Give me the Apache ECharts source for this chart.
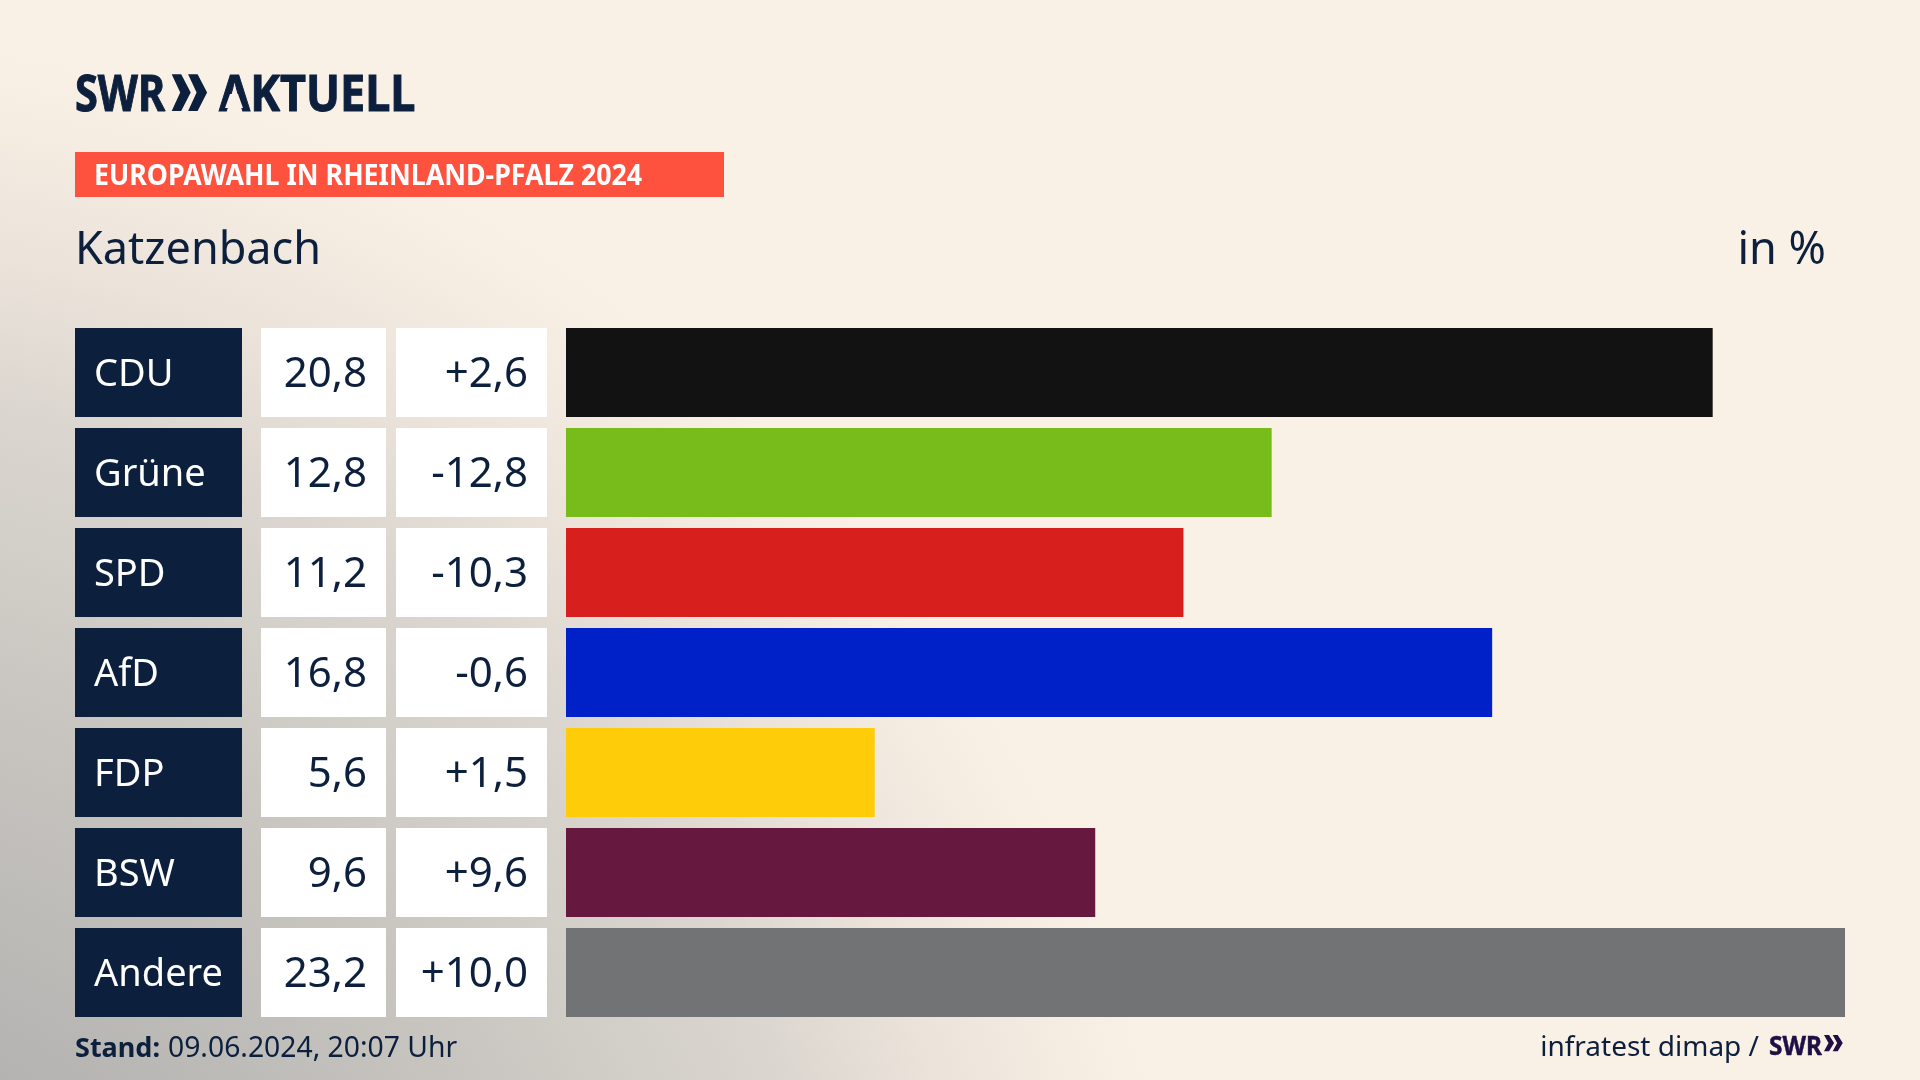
<!DOCTYPE html>
<html>
<head>
<meta charset="utf-8">
<style>
  html, body { margin: 0; padding: 0; }
  #chart { width: 1920px; height: 1080px; }
</style>
<script src="https://cdn.jsdelivr.net/npm/echarts@6/dist/echarts.min.js"></script>
</head>
<body>
<div id="chart"></div>
<script>
const parties = ['CDU', 'Grüne', 'SPD', 'AfD', 'FDP', 'BSW', 'Andere']
const shares = [20.8, 12.8, 11.2, 16.8, 5.6, 9.6, 23.2]
const changes = ['+2,6', '-12,8', '-10,3', '-0,6', '+1,5', '+9,6', '+10,0']
const barColors = ['#121212', '#78bc1b', '#d71f1d', '#0021c7', '#ffcc0a', '#66183f', '#727374']

const NAVY = '#0c1f3d'
const FONT = '"Noto Sans", sans-serif'

// every column is its own grid, same rows
const gridTop = 322.5
const gridHeight = 700
const columns = [
  { left: 75, right: 242 },
  { left: 261, right: 386 },
  { left: 396, right: 547 },
  { left: 566, right: 1845 }
]

// one full width cell per row, text comes from the label
let cellSeries = (idx, color, align, textColor, size, texts) => ({
  type: 'bar',
  xAxisIndex: idx,
  yAxisIndex: idx,
  barWidth: 89,
  silent: true,
  itemStyle: { color: color },
  label: {
    show: true,
    position: align === 'left' ? 'insideLeft' : 'insideRight',
    distance: 19,
    offset: [0, 2.5],
    color: textColor,
    fontFamily: FONT,
    fontSize: size,
    formatter: p => texts[p.dataIndex]
  },
  data: parties.map(() => 1)
})

// y is the middle of the capitals
let txt = (text, x, y, size, color, opts = {}) => ({
  type: 'text',
  x: x,
  y: y + size * 0.085,
  scaleX: opts.scaleX || 1,
  silent: true,
  style: {
    text: text,
    fill: color,
    stroke: opts.heavy ? color : null,
    lineWidth: opts.heavy || 0,
    font: `${opts.weight || 'normal'} ${size}px ${FONT}`,
    textAlign: opts.align || 'left',
    textVerticalAlign: 'middle'
  }
})

// the two SWR arrows, x/y is top left corner
let chevrons = (x, y, sx, sy, color) => [0, 16.4].map(off => ({
  type: 'polygon',
  silent: true,
  shape: {
    points: [[0, 0], [9.5, 0], [19, 18.3], [9.5, 36.7], [0, 36.7], [8.5, 18.3]]
      .map(p => [x + (p[0] + off) * sx, y + p[1] * sy])
  },
  style: { fill: color }
}))

let chart = echarts.init(document.getElementById('chart'), null, { renderer: 'canvas' })

chart.setOption({
  animation: false,
  backgroundColor: {
    type: 'radial',
    x: -200,
    y: 1430,
    r: 1394,
    global: true,
    colorStops: [
      { offset: 0.29, color: '#b4b3b1' },
      { offset: 0.55, color: '#c9c6c1' },
      { offset: 0.66, color: '#d3cfc9' },
      { offset: 0.75, color: '#dbd6cf' },
      { offset: 0.85, color: '#ebe3da' },
      { offset: 1, color: '#faf1e6' }
    ]
  },
  grid: columns.map(c => ({
    left: c.left,
    width: c.right - c.left,
    top: gridTop,
    height: gridHeight
  })),
  xAxis: columns.map((c, i) => ({
    type: 'value',
    gridIndex: i,
    min: 0,
    max: i === 3 ? 23.2 : 1,
    show: false
  })),
  yAxis: columns.map((c, i) => ({
    type: 'category',
    gridIndex: i,
    data: parties,
    inverse: true,
    show: false
  })),
  series: [
    cellSeries(0, NAVY, 'left', '#ffffff', 38, parties),
    cellSeries(1, '#ffffff', 'right', NAVY, 42, shares.map(v => v.toFixed(1).replace('.', ','))),
    cellSeries(2, '#ffffff', 'right', NAVY, 42, changes),
    {
      type: 'bar',
      xAxisIndex: 3,
      yAxisIndex: 3,
      barWidth: 89,
      silent: true,
      data: shares.map((v, i) => ({ value: v, itemStyle: { color: barColors[i] } }))
    }
  ],
  graphic: [
    // logo
    txt('SWR', 75, 92.5, 50, NAVY, { weight: 'bold', scaleX: 0.83, heavy: 1 }),
    ...chevrons(171.7, 74.3, 1, 1, NAVY),
    txt('AKTUELL', 219, 92.5, 50, NAVY, { weight: 'bold', scaleX: 0.9, heavy: 1 }),
    // the A in the logo has no crossbar
    {
      type: 'polygon',
      silent: true,
      z: 5,
      shape: { points: [[230, 94], [238, 94], [243, 108], [225, 108]] },
      style: { fill: '#f9f1e6' }
    },
    // banner
    { type: 'rect', silent: true, shape: { x: 75, y: 152, width: 649, height: 45 }, style: { fill: '#ff523e' } },
    txt('EUROPAWAHL IN RHEINLAND-PFALZ 2024', 94, 175, 28, '#ffffff', { weight: 'bold', scaleX: 0.956 }),
    // titles
    txt('Katzenbach', 75, 247, 45, NAVY),
    txt('in %', 1826, 247, 45, NAVY, { align: 'right' }),
    // footer
    txt('Stand:', 75, 1047, 27, NAVY, { weight: 'bold' }),
    txt('09.06.2024, 20:07 Uhr', 168, 1047, 28.3, NAVY),
    txt('infratest dimap /', 1759, 1045.5, 28, NAVY, { align: 'right' }),
    txt('SWR', 1769, 1045, 27, '#1e0f45', { weight: 'bold', scaleX: 0.9, heavy: 0.5 }),
    ...chevrons(1824, 1035, 0.53, 0.44, '#1e0f45')
  ]
})
</script>
</body>
</html>
